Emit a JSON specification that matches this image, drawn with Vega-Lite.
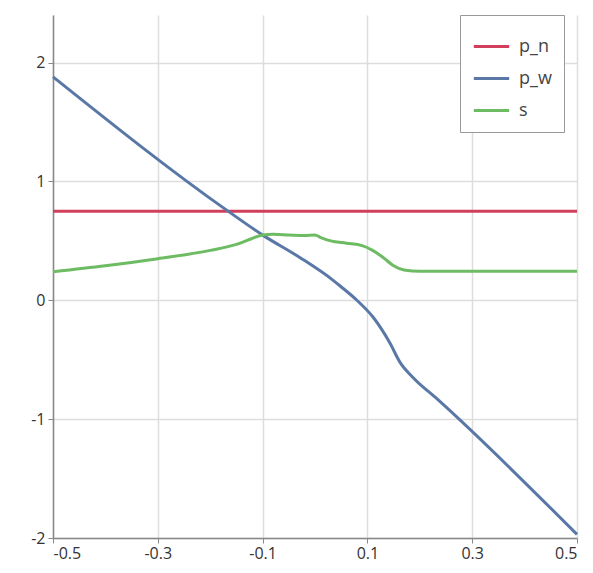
{
  "$schema": "https://vega.github.io/schema/vega-lite/v6.json",
  "width": 524,
  "height": 523,
  "autosize": {"type": "none"},
  "padding": {"left": 53, "top": 15, "right": 16, "bottom": 35},
  "background": "white",
  "data": {"values": [
    {"x": -0.5, "y": 0.75, "series": "p_n"},
    {"x": 0.5, "y": 0.75, "series": "p_n"},
    {"x": -0.5, "y": 1.88, "series": "p_w"},
    {"x": -0.166, "y": 0.75, "series": "p_w"},
    {"x": -0.099, "y": 0.546, "series": "p_w"},
    {"x": -0.029, "y": 0.36, "series": "p_w"},
    {"x": 0.034, "y": 0.17, "series": "p_w"},
    {"x": 0.048, "y": 0.12, "series": "p_w"},
    {"x": 0.08, "y": 0.0, "series": "p_w"},
    {"x": 0.111, "y": -0.143, "series": "p_w"},
    {"x": 0.143, "y": -0.36, "series": "p_w"},
    {"x": 0.162, "y": -0.52, "series": "p_w"},
    {"x": 0.187, "y": -0.65, "series": "p_w"},
    {"x": 0.233, "y": -0.83, "series": "p_w"},
    {"x": 0.5, "y": -1.97, "series": "p_w"},
    {"x": -0.5, "y": 0.24, "series": "s"},
    {"x": -0.4, "y": 0.29, "series": "s"},
    {"x": -0.3, "y": 0.35, "series": "s"},
    {"x": -0.2, "y": 0.42, "series": "s"},
    {"x": -0.15, "y": 0.47, "series": "s"},
    {"x": -0.12, "y": 0.52, "series": "s"},
    {"x": -0.1, "y": 0.55, "series": "s"},
    {"x": -0.08, "y": 0.555, "series": "s"},
    {"x": -0.05, "y": 0.55, "series": "s"},
    {"x": -0.02, "y": 0.545, "series": "s"},
    {"x": 0.0, "y": 0.55, "series": "s"},
    {"x": 0.01, "y": 0.53, "series": "s"},
    {"x": 0.03, "y": 0.5, "series": "s"},
    {"x": 0.06, "y": 0.48, "series": "s"},
    {"x": 0.09, "y": 0.46, "series": "s"},
    {"x": 0.11, "y": 0.42, "series": "s"},
    {"x": 0.13, "y": 0.36, "series": "s"},
    {"x": 0.15, "y": 0.29, "series": "s"},
    {"x": 0.17, "y": 0.255, "series": "s"},
    {"x": 0.2, "y": 0.245, "series": "s"},
    {"x": 0.5, "y": 0.245, "series": "s"}
  ]},
  "mark": {"type": "line", "strokeWidth": 3, "interpolate": "monotone"},
  "encoding": {
    "x": {
      "field": "x", "type": "quantitative",
      "scale": {"domain": [-0.5, 0.5], "nice": false, "zero": false},
      "axis": {
        "title": null, "values": [-0.5, -0.3, -0.1, 0.1, 0.3, 0.5], "format": ".1f",
        "labelExpr": "replace(datum.label, '\u2212', '-')",
        "domainColor": "#888", "domainWidth": 1.5, "tickColor": "#888", "tickSize": 5,
        "gridColor": "#ddd", "gridWidth": 1.5,
        "labelFont": "Open Sans", "labelFontSize": 16, "labelColor": "#333", "labelPadding": 2
      }
    },
    "y": {
      "field": "y", "type": "quantitative",
      "scale": {"domain": [-2, 2.4], "nice": false, "zero": false},
      "axis": {
        "title": null, "values": [-2, -1, 0, 1, 2],
        "labelExpr": "replace(datum.label, '\u2212', '-')",
        "domainColor": "#888", "domainWidth": 1.5, "tickColor": "#888", "tickSize": 5,
        "gridColor": "#ddd", "gridWidth": 1.5,
        "labelFont": "Open Sans", "labelFontSize": 16, "labelColor": "#333", "labelPadding": 3
      }
    },
    "color": {
      "field": "series", "type": "nominal",
      "scale": {"domain": ["p_n", "p_w", "s"], "range": ["#d23f5c", "#5a78a6", "#6dbb63"]},
      "legend": {
        "title": null, "orient": "none", "legendX": 407, "legendY": 0,
        "strokeColor": "#999", "fillColor": "white", "padding": 12,
        "symbolType": "stroke", "symbolSize": 1250, "symbolStrokeWidth": 3,
        "labelFont": "Open Sans", "labelFontSize": 18, "labelColor": "#444",
        "rowPadding": 3, "labelOffset": 8, "labelLimit": 200
      }
    }
  },
  "config": {"view": {"stroke": null}}
}
